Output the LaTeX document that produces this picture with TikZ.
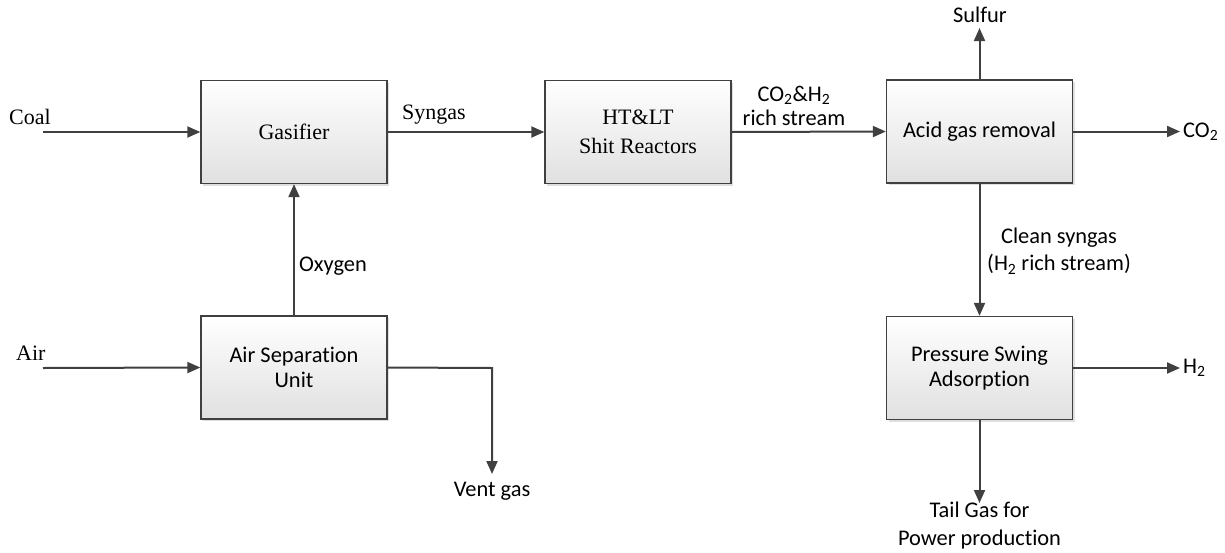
\documentclass[tikz,border=0pt]{standalone}
\usepackage{fontspec}
\setmainfont{Liberation Serif}
\newfontfamily\calib[Ligatures=NoCommon]{Carlito}
\usetikzlibrary{arrows.meta,shadows}
\definecolor{linec}{HTML}{404040}
\begin{document}
\begin{tikzpicture}[x=1pt,y=-1pt,
  box/.style={draw=linec, line width=1.3pt, top color=white, bottom color=black!12,
    minimum width=186pt, minimum height=103pt, inner sep=0pt, align=center,
    drop shadow={shadow xshift=2pt, shadow yshift=-2pt, fill=black!25, opacity=0.5}},
  serifbox/.style={box, font=\fontsize{22}{29}\selectfont},
  sansbox/.style={box, font=\calib\fontsize{22.4}{25.5}\selectfont},
  arr/.style={draw=linec, line width=2pt, -{Triangle[length=13pt,width=11pt]}},
  slab/.style={font=\fontsize{22}{27}\selectfont, inner sep=0pt, align=center},
  clab/.style={font=\calib\fontsize{22.4}{26}\selectfont, inner sep=0pt, align=center}]
\useasboundingbox (0,0) rectangle (1225,552);

% boxes
\node[serifbox] (gas) at (294,132) {Gasifier};
\node[serifbox] (ht) at (638,132) {HT\&LT\\Shit Reactors};
\node[sansbox] (agr) at (979.5,131.5) {Acid gas removal};
\node[sansbox] (psa) at (979.5,368) {Pressure Swing\\Adsorption};
\node[sansbox] (asu) at (294,367.5) {Air Separation\\Unit};

% free ends
\coordinate (coalS) at (43,132);
\coordinate (airS) at (43,368);
\coordinate (ventC) at (492,368);
\coordinate (ventE) at (492,474);
\coordinate (sulE) at (979.5,28);
\coordinate (co2E) at (1180,131.5);
\coordinate (h2E) at (1180,368);
\coordinate (tailE) at (979.5,503);

% connectors
\draw[arr] (coalS) -- (gas.west);
\draw[arr] (airS) -- (asu.west);
\draw[arr] (asu.north) -- (gas.south);
\draw[arr] (gas.east) -- (ht.west);
\draw[arr] (ht.east) -- (agr.west);
\draw[arr] (agr.north) -- (sulE);
\draw[arr] (agr.east) -- (co2E);
\draw[arr] (agr.south) -- (psa.north);
\draw[arr] (psa.east) -- (h2E);
\draw[arr] (psa.south) -- (tailE);
\draw[arr] (asu.east) -- (ventC) -- (ventE);

% labels
\node[slab, anchor=west] (lcoal) at (9,117) {Coal};
\node[slab, anchor=west] (lair) at (16,353) {Air};
\node[slab] (lsyn) at (434,115) {Syngas};
\node[clab, font=\calib\fontsize{22.4}{24}\selectfont] (lco2h2) at (794,106) {CO\textsubscript{2}\&H\textsubscript{2}\\rich stream};
\node[clab] (loxy) at (333,266) {Oxygen};
\node[clab] (lvent) at (492,491) {Vent gas};
\node[clab] (lsul) at (980,15) {Sulfur};
\node[clab, anchor=west] (lco2) at (1183,131.5) {CO\textsubscript{2}};
\node[clab, font=\calib\fontsize{22.4}{27.5}\selectfont] (lclean) at (1059,251) {Clean syngas\\(H\textsubscript{2} rich stream)};
\node[clab, anchor=west] (lh2) at (1183,368) {H\textsubscript{2}};
\node[clab, font=\calib\fontsize{22.4}{28}\selectfont] (ltail) at (979.5,526) {Tail Gas for\\Power production};
\end{tikzpicture}
\end{document}
